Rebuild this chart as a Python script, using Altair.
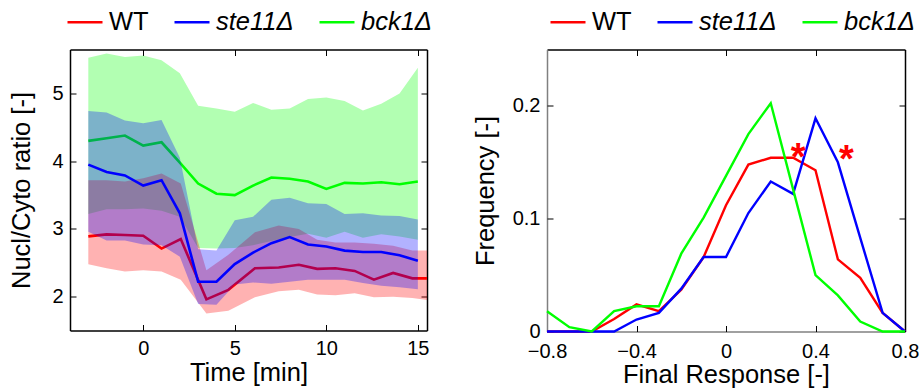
import altair as alt
import pandas as pd

FONT = "Liberation Sans"

# ---------------- left panel data ----------------
t_mut = [-3, -2, -1, 0, 1, 2, 3, 4, 5, 6, 7, 8, 9, 10, 11, 12, 13, 14, 15]
bck1_mean = [4.30, 4.34, 4.38, 4.23, 4.28, 3.98, 3.67, 3.52, 3.50, 3.64, 3.76, 3.74, 3.70, 3.59, 3.68, 3.67, 3.69, 3.66, 3.70]
bck1_hi = [5.53, 5.59, 5.54, 5.56, 5.49, 5.30, 4.82, 4.78, 4.73, 4.86, 4.76, 4.78, 4.92, 4.94, 4.89, 4.75, 4.85, 5.00, 5.38]
bck1_lo = [3.22, 3.29, 3.29, 3.30, 3.27, 3.18, 2.72, 2.71, 2.72, 2.76, 2.82, 2.88, 2.93, 2.87, 2.96, 2.87, 2.92, 2.89, 2.84]

ste11_mean = [3.95, 3.84, 3.79, 3.64, 3.72, 3.23, 2.22, 2.22, 2.48, 2.65, 2.79, 2.88, 2.77, 2.74, 2.68, 2.66, 2.66, 2.61, 2.53]
ste11_hi = [4.74, 4.72, 4.60, 4.56, 4.61, 4.05, 2.70, 2.68, 3.13, 3.18, 3.43, 3.46, 3.38, 3.37, 3.22, 3.23, 3.20, 3.19, 3.14]
ste11_lo = [2.96, 2.83, 2.83, 2.77, 2.76, 2.59, 1.89, 1.88, 2.18, 2.21, 2.19, 2.22, 2.25, 2.25, 2.25, 2.20, 2.16, 2.14, 2.11]

t_wt = [-3, -2, -1, 0, 1, 2.05, 3.45, 4.65, 6.1, 7.4, 8.5, 9.5, 10.5, 11.55, 12.6, 13.65, 14.7, 15.5]
wt_mean = [2.89, 2.92, 2.91, 2.90, 2.71, 2.85, 1.96, 2.10, 2.42, 2.43, 2.47, 2.41, 2.42, 2.38, 2.25, 2.35, 2.27, 2.27]
wt_hi = [3.72, 3.72, 3.70, 3.75, 3.82, 3.67, 2.39, 2.62, 2.95, 3.05, 3.00, 2.84, 2.80, 2.80, 2.78, 2.75, 2.68, 2.68]
wt_lo = [2.48, 2.42, 2.37, 2.39, 2.37, 2.25, 1.75, 1.79, 1.99, 2.08, 2.10, 2.03, 2.02, 2.05, 1.99, 2.00, 1.98, 1.95]

time_ticks = [0, 5, 10, 15]
ratio_ticks = [2, 3, 4, 5]

# ---------------- right panel data ----------------
resp_bins = [-0.8, -0.7, -0.6, -0.5, -0.4, -0.3, -0.2, -0.1, 0.0, 0.1, 0.2, 0.3, 0.4, 0.5, 0.6, 0.7, 0.8]
wt_freq = [0, 0, 0, 0.011, 0.024, 0.018, 0.037, 0.066, 0.112, 0.148, 0.154, 0.154, 0.143, 0.064, 0.0475, 0.0165, 0]
ste11_freq = [0, 0, 0, 0, 0.0106, 0.0165, 0.038, 0.066, 0.066, 0.105, 0.133, 0.122, 0.189, 0.150, 0.083, 0.0165, 0]
bck1_freq = [0.018, 0.0038, 0, 0.018, 0.0224, 0.0224, 0.069, 0.101, 0.138, 0.175, 0.2024, 0.126, 0.050, 0.032, 0.0088, 0, 0]
star_x = [0.322, 0.538]
star_y = [0.1626, 0.1605]
resp_ticks = [-0.8, -0.4, 0, 0.4, 0.8]
freq_ticks = [0, 0.1, 0.2]

strains = ["WT", "ste11Δ", "bck1Δ"]
colors = ["#ff0000", "#0000ff", "#00ff00"]

# ---------------- frames ----------------
df_wt = pd.DataFrame({"t": t_wt, "m": wt_mean, "lo": wt_lo, "hi": wt_hi, "strain": "WT"})
df_ste = pd.DataFrame({"t": t_mut, "m": ste11_mean, "lo": ste11_lo, "hi": ste11_hi, "strain": "ste11Δ"})
df_bck = pd.DataFrame({"t": t_mut, "m": bck1_mean, "lo": bck1_lo, "hi": bck1_hi, "strain": "bck1Δ"})

hist_wt = pd.DataFrame({"x": resp_bins, "f": wt_freq, "strain": "WT"})
hist_ste = pd.DataFrame({"x": resp_bins, "f": ste11_freq, "strain": "ste11Δ"})
hist_bck = pd.DataFrame({"x": resp_bins, "f": bck1_freq, "strain": "bck1Δ"})
stars = pd.DataFrame({"x": star_x, "y": star_y})

W, H = 357, 281
W2, H2 = 358, 282

color_scale = alt.Scale(domain=strains, range=colors)


def legend(x):
    return alt.Legend(
        orient="none", legendX=x, legendY=-46.5, direction="horizontal", title=None,
        symbolType="stroke", symbolSize=1225, symbolStrokeWidth=2.5,
        labelFont=FONT, labelFontSize=25.5, labelColor="black", labelOffset=5,
        columnPadding=20, padding=0, labelLimit=0,
        labelFontStyle=alt.ExprRef(expr="datum.label == 'WT' ? 'normal' : 'italic'"),
    )


def main_axis(orient, values, title, dom_color, label_pad, title_pad, fmt=None):
    kw = dict(
        orient=orient, values=values, title=title, ticks=False, tickSize=0, grid=False,
        labelFont=FONT, labelFontSize=20, labelColor="black", labelPadding=label_pad,
        labelFlush=False, titleFont=FONT, titleFontSize=25.5, titleFontWeight="normal",
        titleColor="black", titlePadding=title_pad, domainColor=dom_color, domainWidth=1.5,
    )
    if fmt:
        kw["format"] = fmt
    return alt.Axis(**kw)


def tick_axis(orient, values, offset, domain, dom_color="black"):
    return alt.Axis(
        orient=orient, values=values, offset=offset, labels=False, title=None, ticks=True,
        tickSize=6, tickColor="black", tickWidth=1, grid=False, domain=domain,
        domainColor=dom_color, domainWidth=1.5,
    )


# ---------------- left panel ----------------
xs = alt.Scale(domain=[-4, 15.5], nice=False, zero=False)
ys = alt.Scale(domain=[1.5, 5.65], nice=False, zero=False)

band_g = alt.Chart(df_bck).mark_area(color="#00ff00", fillOpacity=0.3).encode(
    x=alt.X("t:Q", scale=xs, axis=main_axis("bottom", time_ticks, "Time [min]", "black", 8, 2)),
    y=alt.Y("lo:Q", scale=ys, axis=main_axis("left", ratio_ticks, "Nucl/Cyto ratio [-]", "black", 7, 17)),
    y2="hi:Q",
)
line_g = alt.Chart(df_bck).mark_line(strokeWidth=2.6).encode(
    x=alt.X("t:Q", scale=xs, axis=tick_axis("top", time_ticks, -H, False)),
    y=alt.Y("m:Q", scale=ys, axis=tick_axis("right", ratio_ticks, -W, False)),
    color=alt.Color("strain:N", scale=color_scale, legend=legend(-4)),
)
band_r = alt.Chart(df_wt).mark_area(color="#ff0000", fillOpacity=0.3).encode(
    x=alt.X("t:Q", scale=xs, axis=tick_axis("bottom", time_ticks, -H, True)),
    y=alt.Y("lo:Q", scale=ys, axis=tick_axis("left", ratio_ticks, -W, True)),
    y2="hi:Q",
)
line_r = alt.Chart(df_wt).mark_line(strokeWidth=2.6).encode(
    x=alt.X("t:Q", scale=xs, axis=None),
    y=alt.Y("m:Q", scale=ys, axis=None),
    color=alt.Color("strain:N", scale=color_scale, legend=legend(-4)),
)
band_b = alt.Chart(df_ste).mark_area(color="#0000ff", fillOpacity=0.3).encode(
    x=alt.X("t:Q", scale=xs, axis=None),
    y=alt.Y("lo:Q", scale=ys, axis=None),
    y2="hi:Q",
)
line_b = alt.Chart(df_ste).mark_line(strokeWidth=2.6).encode(
    x=alt.X("t:Q", scale=xs, axis=None),
    y=alt.Y("m:Q", scale=ys, axis=None),
    color=alt.Color("strain:N", scale=color_scale, legend=legend(-4)),
)

left = alt.layer(band_g, line_g, band_r, line_r, band_b, line_b).resolve_axis(
    x="independent", y="independent"
).properties(width=W, height=H)

# ---------------- right panel ----------------
xs2 = alt.Scale(domain=[-0.8, 0.8], nice=False, zero=False)
ys2 = alt.Scale(domain=[0, 0.25], nice=False, zero=False)

h_wt = alt.Chart(hist_wt).mark_line(strokeWidth=2.4).encode(
    x=alt.X("x:Q", scale=xs2, axis=main_axis("bottom", resp_ticks, "Final Response [-]", "#808080", 10, 1, ".1~f")),
    y=alt.Y("f:Q", scale=ys2, axis=main_axis("left", freq_ticks, "Frequency [-]", "#808080", 7, 14, ".1~f")),
    color=alt.Color("strain:N", scale=color_scale, legend=legend(2)),
)
h_ste = alt.Chart(hist_ste).mark_line(strokeWidth=2.4).encode(
    x=alt.X("x:Q", scale=xs2, axis=tick_axis("top", resp_ticks, -H2, False)),
    y=alt.Y("f:Q", scale=ys2, axis=tick_axis("right", freq_ticks, -W2, False)),
    color=alt.Color("strain:N", scale=color_scale, legend=legend(2)),
)
h_bck = alt.Chart(hist_bck).mark_line(strokeWidth=2.4).encode(
    x=alt.X("x:Q", scale=xs2, axis=tick_axis("bottom", resp_ticks, -H2, True)),
    y=alt.Y("f:Q", scale=ys2, axis=tick_axis("left", freq_ticks, -W2, True)),
    color=alt.Color("strain:N", scale=color_scale, legend=legend(2)),
)
star_marks = alt.Chart(stars).mark_text(
    text="*", font=FONT, fontSize=38, fontWeight="bold", color="#ff0000",
    baseline="alphabetic", align="center", dy=22,
).encode(
    x=alt.X("x:Q", scale=xs2, axis=None),
    y=alt.Y("y:Q", scale=ys2, axis=None),
)

right = alt.layer(h_wt, h_ste, h_bck, star_marks).resolve_axis(
    x="independent", y="independent"
).properties(width=W2, height=H2)

chart = alt.hconcat(left, right, spacing=120, bounds="flush").resolve_scale(
    color="independent"
).resolve_legend(color="independent").configure_view(stroke=None).properties(
    padding={"left": 9, "top": 2.5, "right": 0, "bottom": 0}, background="white"
)

chart.save("out.html", embed_options={"renderer": "svg", "actions": False})
